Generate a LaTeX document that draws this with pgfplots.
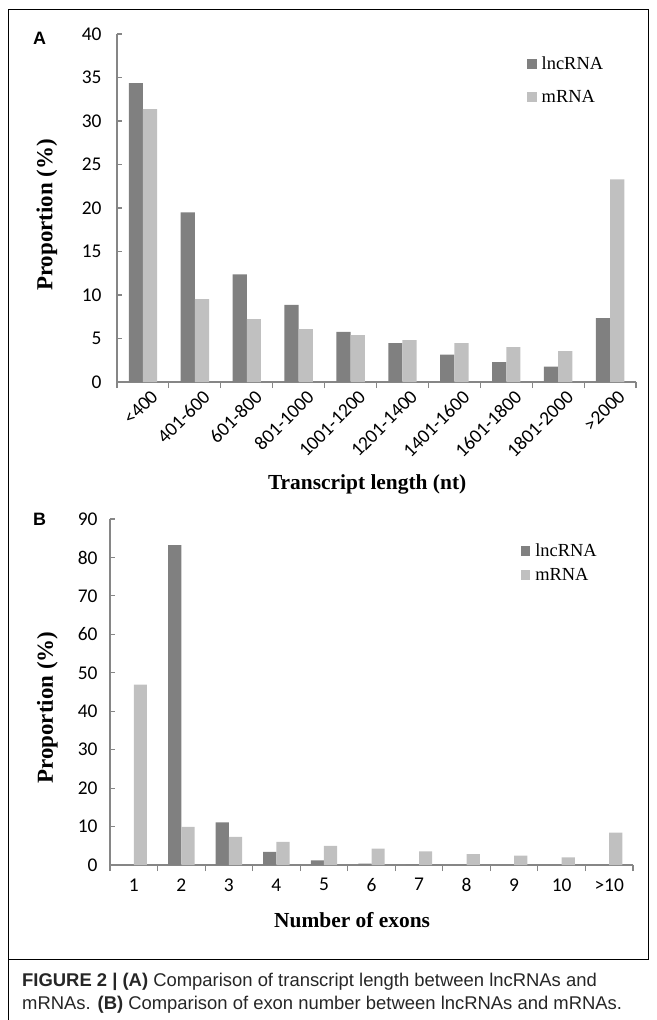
\documentclass[border=0pt]{standalone}
\usepackage{fontspec}
\usepackage{pgfplots}
\pgfplotsset{compat=1.18}
\setmainfont{Liberation Serif}
\newfontfamily\calibri{Carlito}
\newfontfamily\arial{Liberation Sans}
\definecolor{lnc}{HTML}{808080}
\definecolor{mrna}{HTML}{C0C0C0}
\definecolor{axisgray}{HTML}{868686}
\newcommand\tickfont{\calibri\fontsize{19.5}{21}\selectfont}
\newcommand\labfont{\bfseries\fontsize{21.5}{24}\selectfont}
\newcommand\ylabfont{\bfseries\fontsize{23}{26}\selectfont}
\newcommand\legfont{\fontsize{18.5}{20}\selectfont}
\pgfplotsset{
  bbstyle/.style={
    scale only axis,
    axis x line*=bottom, axis y line*=left,
    axis line style={draw=axisgray, line width=1.1bp},
    tick align=inside,
    major tick length=5bp, minor tick length=6bp,
    major x tick style={draw=none},
    minor x tick style={draw=axisgray, line width=1.1bp},
    y tick style={draw=axisgray, line width=1.1bp},
    tick label style={font=\tickfont, text=black},
    /pgf/number format/assume math mode=true,
    ymin=0,
    ybar,
    legend cell align=left,
    legend style={draw=none, fill=none, font=\legfont, inner sep=0pt,
      nodes={inner sep=2pt}, column sep=3bp},
    legend image code/.code={\path[##1, draw=none] (0bp,-4.8bp) rectangle (9.5bp,4.8bp);},
  }
}
\begin{document}
\begin{tikzpicture}
\path[use as bounding box] (0,0) rectangle (657bp,-1020bp);
% frame
\draw[black, line width=0.9bp] (8bp,-959bp) -- (8bp,-9.5bp) -- (648bp,-9.5bp) -- (648bp,-959bp) -- cycle;
\draw[black, line width=0.9bp] (8bp,-959bp) -- (8bp,-1020bp);
% panel A
\node[font=\arial\bfseries\fontsize{18}{20}\selectfont] at (39.5bp,-38bp) {A};
\begin{axis}[bbstyle,
  at={(117bp,-382bp)}, anchor=south west,
  width=519bp, height=348bp,
  xmin=-0.5, xmax=9.5, ymax=40,
  ytick={0,5,...,40},
  yticklabel style={xshift=-12bp},
  xtick={0,...,9},
  xticklabels={<400,401-600,601-800,801-1000,1001-1200,1201-1400,1401-1600,1601-1800,1801-2000,>2000},
  x tick label style={rotate=45, anchor=north east, xshift=7bp, yshift=-3bp},
  minor xtick={-0.5,0.5,...,9.5},
  bar width=14.2bp,
  xlabel={Transcript length (nt)},
  ylabel={Proportion (\%)},
  every axis x label/.style={at={(axis description cs:0.482,-0.295)}, anchor=center, font=\labfont},
  every axis y label/.style={at={(axis description cs:-0.135,0.48)}, rotate=90, anchor=center, font=\ylabfont},
  legend style={at={(axis description cs:0.79,0.94)}, anchor=north west, row sep=15bp},
]
\addplot[fill=lnc, draw=none, bar shift=-7.1bp] coordinates {
(0,34.35) (1,19.5) (2,12.36) (3,8.87) (4,5.77) (5,4.46) (6,3.16) (7,2.28) (8,1.78) (9,7.34)};
\addplot[fill=mrna, draw=none, bar shift=7.1bp] coordinates {
(0,31.36) (1,9.52) (2,7.22) (3,6.07) (4,5.38) (5,4.81) (6,4.46) (7,4.0) (8,3.54) (9,23.3)};
\legend{lncRNA,mRNA}
\end{axis}
% panel B
\node[font=\arial\bfseries\fontsize{18}{20}\selectfont] at (39.5bp,-519.5bp) {B};
\begin{axis}[bbstyle,
  at={(110bp,-865bp)}, anchor=south west,
  width=523bp, height=346bp,
  xmin=-0.5, xmax=10.5, ymax=90,
  ytick={0,10,...,90},
  yticklabel style={xshift=-9bp},
  xtick={0,...,10},
  xticklabels={1,2,3,4,5,6,7,8,9,10,>10},
  x tick label style={yshift=-5bp},
  minor xtick={-0.5,0.5,...,10.5},
  bar width=13.2bp,
  xlabel={Number of exons},
  ylabel={Proportion (\%)},
  every axis x label/.style={at={(axis description cs:0.463,-0.159)}, anchor=center, font=\labfont},
  every axis y label/.style={at={(axis description cs:-0.12,0.455)}, rotate=90, anchor=center, font=\ylabfont},
  legend style={at={(axis description cs:0.785,0.935)}, anchor=north west, row sep=6bp},
]
\addplot[fill=lnc, draw=none, bar shift=-6.6bp] coordinates {
(0,0) (1,83.2) (2,11.1) (3,3.4) (4,1.2) (5,0.35) (6,0.1) (7,0) (8,0) (9,0) (10,0)};
\addplot[fill=mrna, draw=none, bar shift=6.6bp] coordinates {
(0,46.9) (1,9.9) (2,7.3) (3,6.0) (4,5.0) (5,4.25) (6,3.56) (7,2.86) (8,2.43) (9,2.0) (10,8.4)};
\legend{lncRNA,mRNA}
\end{axis}
% caption
\node[anchor=west, font=\arial\fontsize{18.5}{23}\selectfont, text=black!85, inner sep=0pt] at (22bp,-982bp)
  {\textbf{FIGURE 2 | (A)} Comparison of transcript length between lncRNAs and};
\node[anchor=west, font=\arial\fontsize{18.5}{23}\selectfont, text=black!85, inner sep=0pt] at (22bp,-1005bp)
  {mRNAs. \textbf{(B)} Comparison of exon number between lncRNAs and mRNAs.};
\end{tikzpicture}
\end{document}
